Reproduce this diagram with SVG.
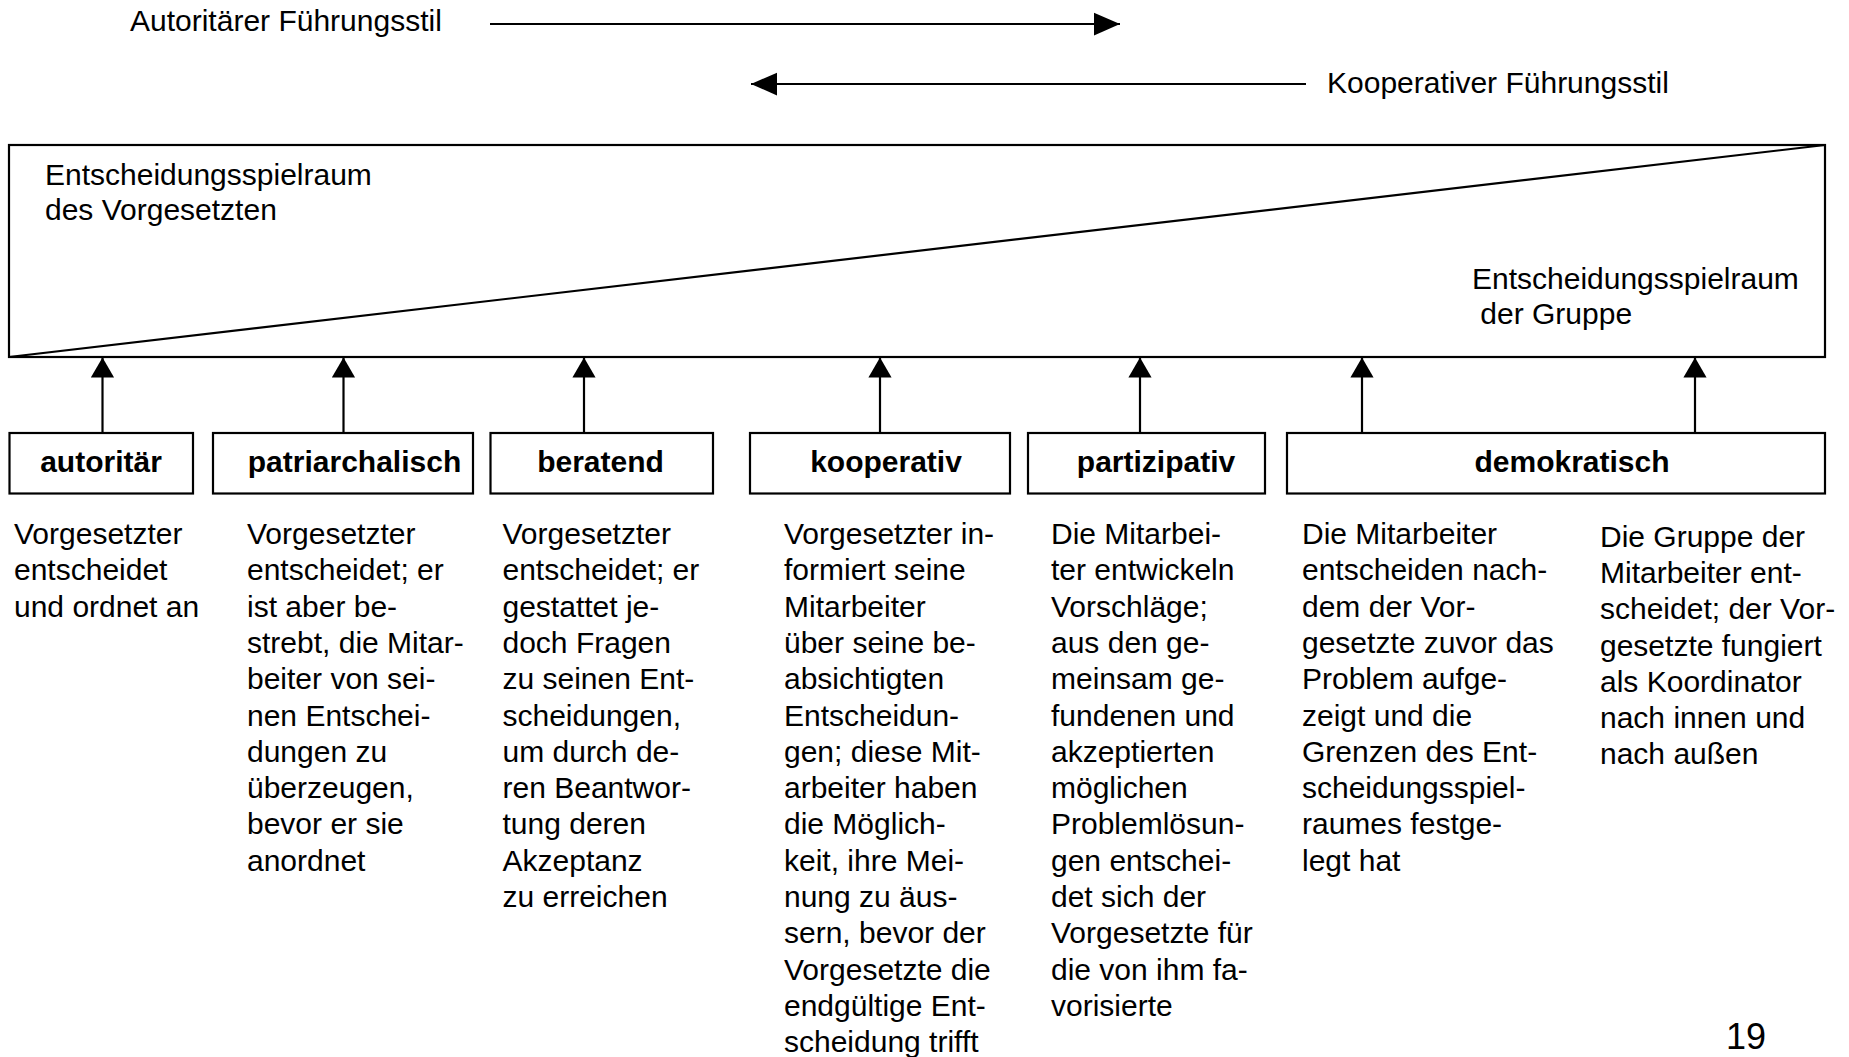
<svg xmlns="http://www.w3.org/2000/svg" width="1849" height="1057" viewBox="0 0 1849 1057">
  <style>
    text { font-family: "Liberation Sans", Arial, sans-serif; font-size: 30px; fill: #000; }
    .lbl { font-weight: bold; text-anchor: middle; }
    .box { fill: #fff; stroke: #000; stroke-width: 2.2; }
    .conn { stroke: #000; stroke-width: 2.2; fill: none; }
    .page { font-size: 36px; }
  </style>
  <defs>
    <marker id="headUp" markerUnits="userSpaceOnUse" markerWidth="24" markerHeight="20" refX="11" refY="0" orient="0" viewBox="0 0 22 19">
      <path d="M0,19 L11,0 L22,19 Z" fill="#000"/>
    </marker>
    <marker id="headH" markerUnits="userSpaceOnUse" markerWidth="26" markerHeight="24" refX="24" refY="10.5" orient="auto" viewBox="0 0 24 21">
      <path d="M0,0 L24,10.5 L0,21 Z" fill="#000"/>
    </marker>
  </defs>

  <rect width="1849" height="1057" fill="#fff"/>

  <!-- direction arrows for the two leadership styles -->
  <g id="scale-arrows">
    <text x="130" y="31">Autoritärer Führungsstil</text>
    <line class="conn" x1="490" y1="24" x2="1120" y2="24" marker-end="url(#headH)"/>
    <line class="conn" x1="1306" y1="84" x2="751" y2="84" marker-end="url(#headH)"/>
    <text x="1327" y="93">Kooperativer Führungsstil</text>
  </g>

  <!-- decision space: superior vs. group, split by the diagonal -->
  <g id="decision-space">
    <rect class="box" x="9" y="145" width="1816" height="212"/>
    <line class="conn" x1="9" y1="357" x2="1825" y2="145"/>
    <text x="45" y="185">Entscheidungsspielraum<tspan x="45" dy="35">des Vorgesetzten</tspan></text>
    <text x="1472" y="289">Entscheidungsspielraum<tspan x="1472" dy="35" xml:space="preserve"> der Gruppe</tspan></text>
  </g>

  <!-- style boxes -->
  <g id="node-autoritaer">
    <rect class="box" x="9.5" y="433" width="183.5" height="60.5"/>
    <text class="lbl" x="101" y="472">autoritär</text>
  </g>
  <g id="node-patriarchalisch">
    <rect class="box" x="213" y="433" width="260" height="60.5"/>
    <text class="lbl" x="354.5" y="472">patriarchalisch</text>
  </g>
  <g id="node-beratend">
    <rect class="box" x="490.5" y="433" width="222.5" height="60.5"/>
    <text class="lbl" x="600.5" y="472">beratend</text>
  </g>
  <g id="node-kooperativ">
    <rect class="box" x="750" y="433" width="260" height="60.5"/>
    <text class="lbl" x="886" y="472">kooperativ</text>
  </g>
  <g id="node-partizipativ">
    <rect class="box" x="1028" y="433" width="237" height="60.5"/>
    <text class="lbl" x="1156" y="472">partizipativ</text>
  </g>
  <g id="node-demokratisch">
    <rect class="box" x="1287" y="433" width="538" height="60.5"/>
    <text class="lbl" x="1572" y="472">demokratisch</text>
  </g>

  <!-- connectors from the style boxes up to the decision space -->
  <g id="connectors">
    <line class="conn" x1="102.5" y1="433" x2="102.5" y2="357.5" marker-end="url(#headUp)"/>
    <line class="conn" x1="343.5" y1="433" x2="343.5" y2="357.5" marker-end="url(#headUp)"/>
    <line class="conn" x1="584" y1="433" x2="584" y2="357.5" marker-end="url(#headUp)"/>
    <line class="conn" x1="880" y1="433" x2="880" y2="357.5" marker-end="url(#headUp)"/>
    <line class="conn" x1="1140" y1="433" x2="1140" y2="357.5" marker-end="url(#headUp)"/>
    <line class="conn" x1="1362" y1="433" x2="1362" y2="357.5" marker-end="url(#headUp)"/>
    <line class="conn" x1="1695" y1="433" x2="1695" y2="357.5" marker-end="url(#headUp)"/>
  </g>

  <!-- descriptions below each style -->
  <g id="descriptions">
    <text x="14" y="544">Vorgesetzter<tspan x="14" dy="36.3">entscheidet</tspan><tspan x="14" dy="36.3">und ordnet an</tspan></text>
    <text x="247" y="544">Vorgesetzter<tspan x="247" dy="36.3">entscheidet; er</tspan><tspan x="247" dy="36.3">ist aber be-</tspan><tspan x="247" dy="36.3">strebt, die Mitar-</tspan><tspan x="247" dy="36.3">beiter von sei-</tspan><tspan x="247" dy="36.3">nen Entschei-</tspan><tspan x="247" dy="36.3">dungen zu</tspan><tspan x="247" dy="36.3">überzeugen,</tspan><tspan x="247" dy="36.3">bevor er sie</tspan><tspan x="247" dy="36.3">anordnet</tspan></text>
    <text x="502.5" y="544">Vorgesetzter<tspan x="502.5" dy="36.3">entscheidet; er</tspan><tspan x="502.5" dy="36.3">gestattet je-</tspan><tspan x="502.5" dy="36.3">doch Fragen</tspan><tspan x="502.5" dy="36.3">zu seinen Ent-</tspan><tspan x="502.5" dy="36.3">scheidungen,</tspan><tspan x="502.5" dy="36.3">um durch de-</tspan><tspan x="502.5" dy="36.3">ren Beantwor-</tspan><tspan x="502.5" dy="36.3">tung deren</tspan><tspan x="502.5" dy="36.3">Akzeptanz</tspan><tspan x="502.5" dy="36.3">zu erreichen</tspan></text>
    <text x="784" y="544">Vorgesetzter in-<tspan x="784" dy="36.3">formiert seine</tspan><tspan x="784" dy="36.3">Mitarbeiter</tspan><tspan x="784" dy="36.3">über seine be-</tspan><tspan x="784" dy="36.3">absichtigten</tspan><tspan x="784" dy="36.3">Entscheidun-</tspan><tspan x="784" dy="36.3">gen; diese Mit-</tspan><tspan x="784" dy="36.3">arbeiter haben</tspan><tspan x="784" dy="36.3">die Möglich-</tspan><tspan x="784" dy="36.3">keit, ihre Mei-</tspan><tspan x="784" dy="36.3">nung zu äus-</tspan><tspan x="784" dy="36.3">sern, bevor der</tspan><tspan x="784" dy="36.3">Vorgesetzte die</tspan><tspan x="784" dy="36.3">endgültige Ent-</tspan><tspan x="784" dy="36.3">scheidung trifft</tspan></text>
    <text x="1051" y="544">Die Mitarbei-<tspan x="1051" dy="36.3">ter entwickeln</tspan><tspan x="1051" dy="36.3">Vorschläge;</tspan><tspan x="1051" dy="36.3">aus den ge-</tspan><tspan x="1051" dy="36.3">meinsam ge-</tspan><tspan x="1051" dy="36.3">fundenen und</tspan><tspan x="1051" dy="36.3">akzeptierten</tspan><tspan x="1051" dy="36.3">möglichen</tspan><tspan x="1051" dy="36.3">Problemlösun-</tspan><tspan x="1051" dy="36.3">gen entschei-</tspan><tspan x="1051" dy="36.3">det sich der</tspan><tspan x="1051" dy="36.3">Vorgesetzte für</tspan><tspan x="1051" dy="36.3">die von ihm fa-</tspan><tspan x="1051" dy="36.3">vorisierte</tspan></text>
    <text x="1302" y="544">Die Mitarbeiter<tspan x="1302" dy="36.3">entscheiden nach-</tspan><tspan x="1302" dy="36.3">dem der Vor-</tspan><tspan x="1302" dy="36.3">gesetzte zuvor das</tspan><tspan x="1302" dy="36.3">Problem aufge-</tspan><tspan x="1302" dy="36.3">zeigt und die</tspan><tspan x="1302" dy="36.3">Grenzen des Ent-</tspan><tspan x="1302" dy="36.3">scheidungsspiel-</tspan><tspan x="1302" dy="36.3">raumes festge-</tspan><tspan x="1302" dy="36.3">legt hat</tspan></text>
    <text x="1600" y="547">Die Gruppe der<tspan x="1600" dy="36.2">Mitarbeiter ent-</tspan><tspan x="1600" dy="36.2">scheidet; der Vor-</tspan><tspan x="1600" dy="36.2">gesetzte fungiert</tspan><tspan x="1600" dy="36.2">als Koordinator</tspan><tspan x="1600" dy="36.2">nach innen und</tspan><tspan x="1600" dy="36.2">nach außen</tspan></text>
  </g>

  <text class="page" x="1726" y="1049">19</text>
</svg>
